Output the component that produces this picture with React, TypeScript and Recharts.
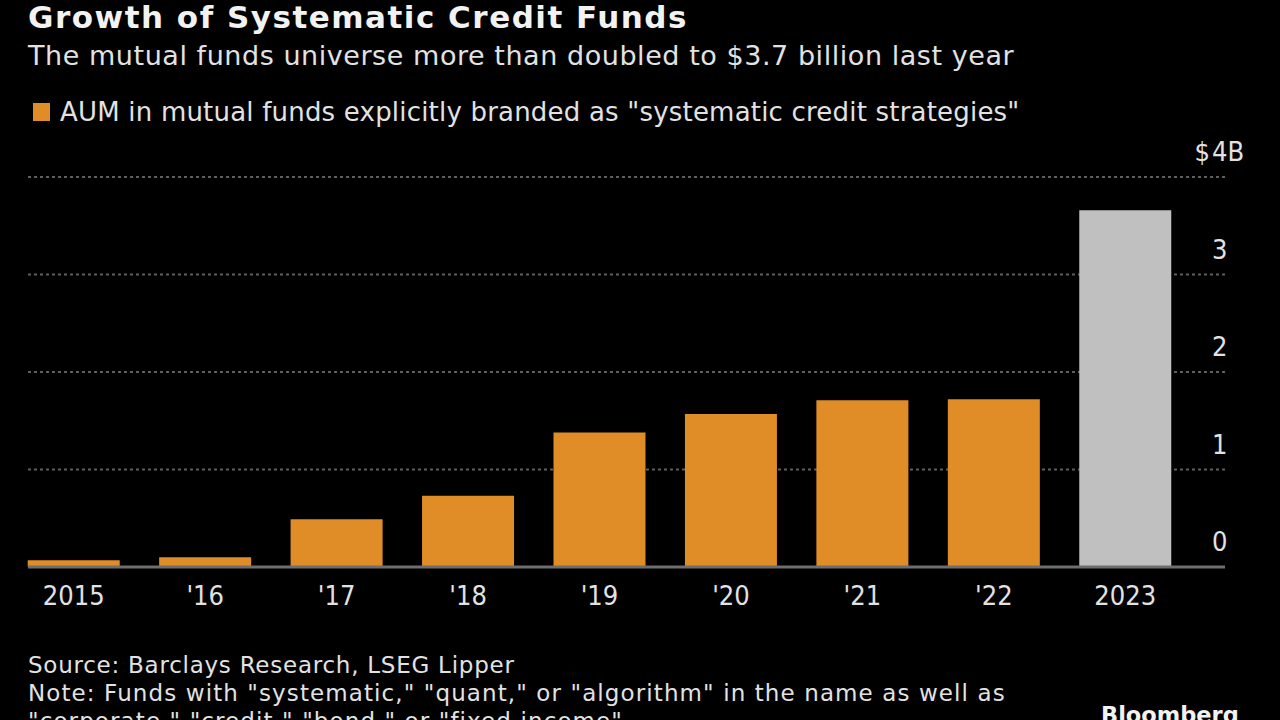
import { Bar, BarChart, CartesianGrid, Cell, ReferenceLine, XAxis, YAxis } from "recharts";

const years = ["2015", "'16", "'17", "'18", "'19", "'20", "'21", "'22", "2023"];
const aum = [0.07, 0.1, 0.49, 0.73, 1.38, 1.57, 1.71, 1.72, 3.66];
const yTicks = [0, 1, 2, 3, 4];

const ORANGE = "#e08d28";
const GREY_BAR = "#c0c0c0";
const TEXT = "#e2e2e2";
const SANS = "'DejaVu Sans', sans-serif";
const NARROW = "'DejaVu Sans Condensed', 'DejaVu Sans', sans-serif";

const data = years.map((year, i) => ({ year, aum: aum[i] }));

function YTick(props: any) {
  const { x, y, payload } = props;
  const left = x - 13;
  const isTop = payload.value === 4;
  return (
    <g fill={TEXT} fontSize={27} fontFamily={NARROW}>
      {isTop && (
        <text x={left - 2} y={y - 16} textAnchor="end">
          $
        </text>
      )}
      <text x={left} y={y - 16} textAnchor="start">
        {isTop ? "4B" : String(payload.value)}
      </text>
    </g>
  );
}

export default function App() {
  return (
    <div
      style={{
        position: "fixed",
        left: 0,
        top: 0,
        width: 1280,
        height: 720,
        background: "#000",
        overflow: "hidden",
        fontFamily: SANS,
        color: TEXT,
        whiteSpace: "nowrap",
      }}
    >
      <div style={{ position: "absolute", left: 28, top: -1, fontSize: 31, fontWeight: "bold", letterSpacing: 1.5, color: "#f2f2f2" }}>
        Growth of Systematic Credit Funds
      </div>
      <div style={{ position: "absolute", left: 28, top: 40, fontSize: 27, letterSpacing: 0.55 }}>
        The mutual funds universe more than doubled to $3.7 billion last year
      </div>
      <div style={{ position: "absolute", left: 33, top: 103, width: 17, height: 18, background: ORANGE }} />
      <div style={{ position: "absolute", left: 60, top: 97, fontSize: 26, letterSpacing: 0.2 }}>
        AUM in mutual funds explicitly branded as "systematic credit strategies"
      </div>

      <div style={{ position: "absolute", left: 0, top: 0 }}>
        <BarChart
          width={1280}
          height={720}
          data={data}
          margin={{ top: 177, right: 0, bottom: 113, left: 28 }}
          barCategoryGap="15%"
        >
          <CartesianGrid vertical={false} stroke="#5f5f5f" strokeDasharray="3 3" strokeWidth={2} />
          <XAxis
            dataKey="year"
            axisLine={false}
            tickLine={false}
            tickSize={0}
            tickMargin={19}
            height={40}
            padding={{ left: -20, right: 34 }}
            interval={0}
            tick={{ fill: TEXT, fontSize: 27, fontFamily: NARROW }}
          />
          <YAxis
            orientation="right"
            width={55}
            domain={[0, 4]}
            ticks={yTicks}
            axisLine={false}
            tickLine={false}
            tickSize={0}
            tickMargin={0}
            tick={<YTick />}
          />
          <Bar dataKey="aum" isAnimationActive={false}>
            {data.map((d, i) => (
              <Cell key={d.year} fill={i === data.length - 1 ? GREY_BAR : ORANGE} />
            ))}
          </Bar>
          <ReferenceLine y={0} stroke="#6e6e6e" strokeWidth={3} />
        </BarChart>
      </div>

      <div style={{ position: "absolute", left: 28, top: 651, fontSize: 23, lineHeight: "28px" }}>
        <div style={{ letterSpacing: 0.75 }}>Source: Barclays Research, LSEG Lipper</div>
        <div style={{ letterSpacing: 1.1 }}>Note: Funds with "systematic," "quant," or "algorithm" in the name as well as</div>
        <div style={{ letterSpacing: 1.1 }}>"corporate," "credit," "bond," or "fixed income"</div>
      </div>
      <div style={{ position: "absolute", left: 1101, top: 702, fontSize: 22.5, fontWeight: "bold", color: "#f2f2f2" }}>
        Bloomberg
      </div>
    </div>
  );
}
